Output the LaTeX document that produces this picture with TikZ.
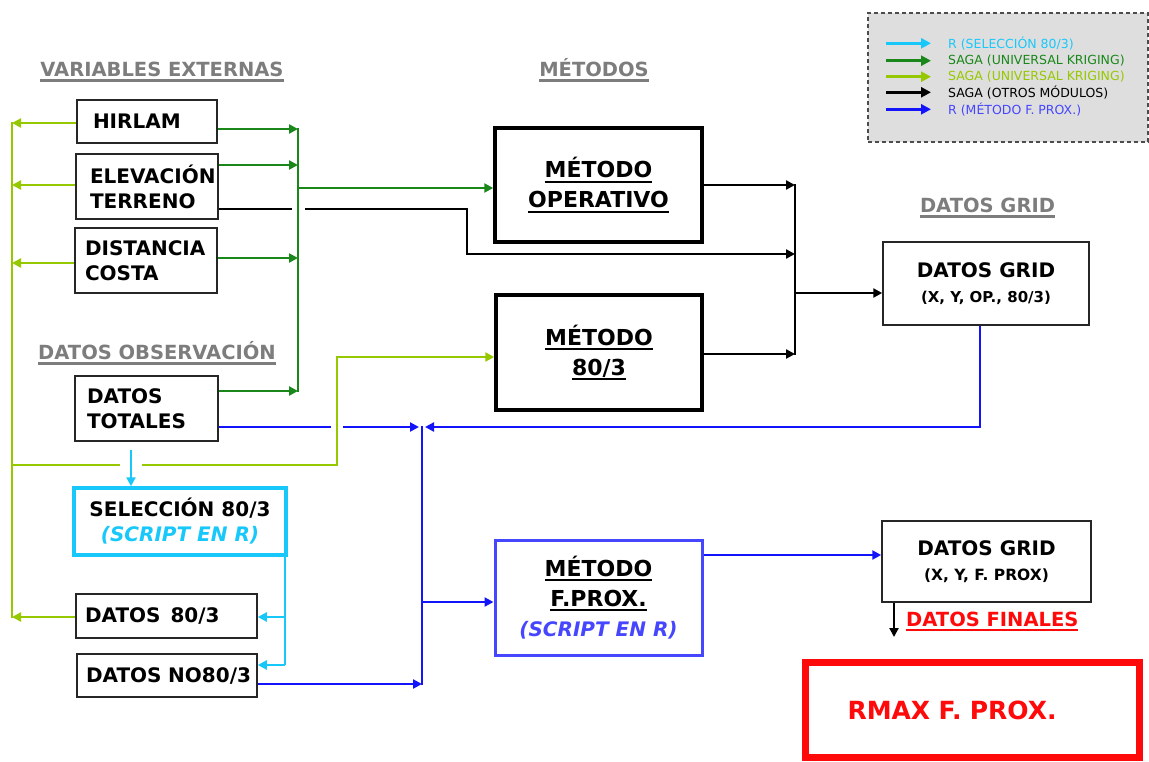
\documentclass[tikz,border=0pt]{standalone}
\usepackage{fontspec}
\setmainfont{DejaVu Sans}
\usetikzlibrary{arrows.meta,calc}
\definecolor{dg}{RGB}{25,135,25}
\definecolor{lg}{RGB}{150,200,0}
\definecolor{cy}{RGB}{25,200,250}
\definecolor{bl}{RGB}{20,20,250}
\definecolor{fpblue}{RGB}{70,70,255}
\definecolor{hdrgray}{RGB}{125,125,125}
\definecolor{rd}{RGB}{255,10,10}
\definecolor{leggray}{RGB}{222,222,222}
\newcommand\ulx[2][2pt]{\leavevmode\setbox0\hbox{#2}\rlap{\vrule height -3pt depth \dimexpr3pt+#1\relax width \wd0}\box0}
\begin{document}
\begin{tikzpicture}[x=1pt,y=-1pt,line join=miter,
  plainbox/.style={draw=black!85, line width=1.5pt, fill=white, inner sep=0pt, font=\bfseries\fontsize{20}{25}\selectfont, align=left},
  methodbox/.style={draw=black, line width=3.5pt, fill=white, inner sep=0pt, font=\bfseries\fontsize{22}{30}\selectfont, align=center},
  header/.style={text=hdrgray, font=\bfseries\fontsize{19.5}{22}\selectfont, anchor=base, inner sep=0pt},
  conn/.style={line width=2.6pt},
  arr/.style={conn, -{Triangle[length=9pt,width=9pt]}},
  legarr/.style={line width=2.8pt, -{Triangle[length=10pt,width=10pt]}},
  legtext/.style={anchor=west, inner sep=0pt, font=\fontsize{12.5}{14}\selectfont}]
\useasboundingbox (0,0) rectangle (1149,761);

% legend
\node[draw=black!70, dash pattern=on 4pt off 3pt, line width=1.3pt, fill=leggray, minimum width=280, minimum height=129, inner sep=0pt] (leg) at (1008,77.5) {};
\node[legtext, text=cy] (l1) at (948,43.3) {R (SELECCIÓN 80/3)};
\node[legtext, text=dg] (l2) at (948,60.7) {SAGA (UNIVERSAL KRIGING)};
\node[legtext, text=lg] (l3) at (948,76.7) {SAGA (UNIVERSAL KRIGING)};
\node[legtext, text=black] (l4) at (948,92.3) {SAGA (OTROS MÓDULOS)};
\node[legtext, text=fpblue] (l5) at (948,109.3) {R (MÉTODO F. PROX.)};
\foreach \n/\c in {l1/cy, l2/dg, l3/lg, l4/black, l5/bl}
  \draw[legarr, \c] ([xshift=-62pt]\n.west) -- ([xshift=-17pt]\n.west);

% headers
\node[header] (hve) at (162,76) {\ulx[2.5pt]{VARIABLES EXTERNAS}};
\node[header] (hme) at (594,76) {\ulx[2.5pt]{MÉTODOS}};
\node[header] (hdg) at (987.5,212) {\ulx[2.5pt]{DATOS GRID}};
\node[header] (hdo) at (157,359) {\ulx[2.5pt]{DATOS OBSERVACIÓN}};

% left boxes
\node[plainbox, minimum width=140, minimum height=43, text width=108] (hir) at (147,121.5) {HIRLAM};
\node[plainbox, minimum width=142, minimum height=65, text width=114] (elev) at (147,186.5) {ELEVACIÓN\\TERRENO};
\node[plainbox, minimum width=142, minimum height=65, text width=122] (dist) at (146,260.5) {DISTANCIA\\COSTA};
\node[plainbox, minimum width=143, minimum height=65, text width=119] (tot) at (146.5,408.5) {DATOS\\TOTALES};
\node[plainbox, draw=cy, line width=3.5pt, minimum width=212, minimum height=67, align=center] (sel) at (180,521.5) {SELECCIÓN 80/3\\{\color{cy}\itshape (SCRIPT EN R)}};
\node[plainbox, minimum width=181, minimum height=44, text width=163] (d80) at (166.5,616) {\mbox{DATOS~\,80/3}};
\node[plainbox, minimum width=180, minimum height=43, text width=162] (dno) at (167,675.5) {\mbox{DATOS NO80/3}};

% method boxes
\node[methodbox, minimum width=207, minimum height=114] (mop) at (598.5,185) {\ulx{MÉTODO}\\\ulx{OPERATIVO}};
\node[methodbox, minimum width=206, minimum height=115] (m80) at (599,352.5) {\ulx{MÉTODO}\\\ulx{80/3}};
\node[methodbox, draw=fpblue, line width=3pt, minimum width=207, minimum height=115] (mfp) at (598.5,597.5) {\ulx{MÉTODO}\\\ulx{F.PROX.}\\{\fontsize{20}{24}\selectfont\color{fpblue}\itshape (SCRIPT EN R)}};

% grid boxes
\node[plainbox, minimum width=206, minimum height=83, align=center] (g1) at (986,283.5) {DATOS GRID\\{\fontsize{15}{18}\selectfont (X, Y, OP., 80/3)}};
\node[plainbox, minimum width=209, minimum height=81, align=center] (g2) at (986.5,561.5) {DATOS GRID\\{\fontsize{15.5}{18}\selectfont (X, Y, F. PROX)}};
\node[text=rd, font=\bfseries\fontsize{19.5}{22}\selectfont, anchor=base west, inner sep=0pt] (fin) at (906,626) {\ulx{DATOS FINALES}};
\node[draw=rd, line width=7pt, minimum width=334, minimum height=95, inner sep=0pt, text width=250, align=left, text=rd, font=\bfseries\fontsize{25}{30}\selectfont] (rmax) at (972.5,710) {RMAX F. PROX.};

% bus coordinates
\coordinate (gbus) at (298,0);
\coordinate (bbus) at (795,0);
\coordinate (lbus) at (12,0);
\coordinate (ubus) at (422,0);
\coordinate (cbus) at (285,0);

% dark green
\draw[conn,dg] (gbus |- 0,128) -- (gbus |- 0,392);
\draw[arr,dg] (hir.east |- 0,129) -- (gbus |- 0,129);
\draw[arr,dg] (elev.east |- 0,165) -- (gbus |- 0,165);
\draw[arr,dg] (dist.east |- 0,258) -- (gbus |- 0,258);
\draw[arr,dg] (tot.east |- 0,391) -- (gbus |- 0,391);
\draw[arr,dg] (gbus |- 0,188) -- (mop.west |- 0,188);

% black
\coordinate (k1) at (292,209);
\coordinate (k2) at (305,209);
\draw[conn] (elev.east |- k1) -- (k1);
\draw[arr] (k2) -- (467,209) -- (467,254) -- (bbus |- 0,254);
\draw[conn] (bbus |- 0,184) -- (bbus |- 0,355);
\draw[arr] (mop.east |- 0,185) -- (bbus |- 0,185);
\draw[arr] (m80.east |- 0,354) -- (bbus |- 0,354);
\draw[arr] (bbus |- 0,293) -- (g1.west |- 0,293);

% light green
\draw[conn,lg] (lbus |- 0,122) -- (lbus |- 0,618);
\draw[arr,lg] (hir.west |- 0,123) -- (lbus |- 0,123);
\draw[arr,lg] (elev.west |- 0,185) -- (lbus |- 0,185);
\draw[arr,lg] (dist.west |- 0,263) -- (lbus |- 0,263);
\draw[arr,lg] (d80.west |- 0,617) -- (lbus |- 0,617);
\coordinate (q1) at (120,465);
\coordinate (q2) at (142,465);
\draw[conn,lg] (lbus |- q1) -- (q1);
\draw[arr,lg] (q2) -- (337,465) -- (337,357) -- (m80.west |- 0,357);

% cyan
\coordinate (c0) at (131,450);
\draw[arr,cy] (c0) -- (sel.north -| c0);
\draw[conn,cy] (sel.south -| cbus) -- (cbus |- 0,665);
\draw[arr,cy] (cbus |- 0,617) -- (d80.east |- 0,617);
\draw[arr,cy] (cbus |- 0,665) -- (dno.east |- 0,665);

% blue
\coordinate (b1) at (331,427);
\coordinate (b2) at (343,427);
\coordinate (ua) at (419,427);
\coordinate (ub) at (425,427);
\coordinate (b3) at (980,0);
\draw[conn,bl] (tot.east |- b1) -- (b1);
\draw[arr,bl] (b2) -- (ua);
\draw[arr,bl] (g1.south -| b3) -- (b3 |- ub) -- (ub);
\draw[conn,bl] (ubus |- 0,426) -- (ubus |- 0,685);
\draw[arr,bl] (dno.east |- 0,684) -- (ubus |- 0,684);
\draw[arr,bl] (ubus |- 0,602) -- (mfp.west |- 0,602);
\draw[arr,bl] (mfp.east |- 0,555) -- (g2.west |- 0,555);

% final
\coordinate (k3) at (894,0);
\draw[arr, line width=2pt] (g2.south -| k3) -- (k3 |- 0,637);
\end{tikzpicture}
\end{document}
